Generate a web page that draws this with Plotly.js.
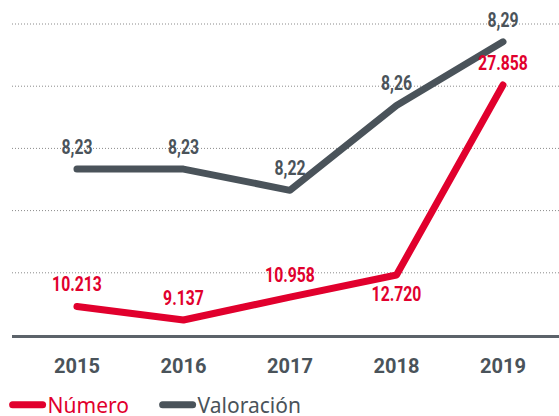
<!DOCTYPE html>
<html>
<head>
<meta charset="utf-8">
<script src="https://cdn.plot.ly/plotly-3.0.1.min.js"></script>
<style>
  html, body { margin: 0; padding: 0; background: #fff; }
  #chart { width: 559px; height: 416px; }
  /* narrow the bold value labels, the original uses a condensed face */
  #chart .textpoint text {
    transform-box: fill-box;
    transform-origin: center;
    transform: scaleX(0.75);
  }
  #chart .js-line { stroke-linecap: round; stroke-linejoin: round; }
</style>
</head>
<body>
<div id="chart"></div>
<script>
const years = ['2015', '2016', '2017', '2018', '2019'];
const numero = [10213, 9137, 10958, 12720, 27858];
const numeroLabels = ['10.213', '9.137', '10.958', '12.720', '27.858'];
const numeroLabelPos = ['top center', 'top center', 'top center', 'bottom center', 'top center'];
const valoracion = [8.23, 8.23, 8.22, 8.26, 8.29];
const valoracionLabels = ['8,23', '8,23', '8,22', '8,26', '8,29'];

const RED = '#e1002d';
const GREY = '#4a535a';
const labelFont = 'Roboto, sans-serif';

const gridShapes = [0.2, 0.4, 0.6, 0.8, 1.0].map(y => ({
    type: 'line', xref: 'paper', yref: 'paper',
    x0: 0, x1: 1, y0: y, y1: y,
    line: { color: '#8a8a8a', width: 1, dash: '1px,2px' },
    layer: 'below'
}));

const traces = [
    {
        name: '<span style="color:' + RED + '">Número</span>',
        x: years,
        y: numero,
        yaxis: 'y2',
        type: 'scatter',
        mode: 'lines+markers+text',
        line: { color: RED, width: 7 },
        marker: { size: 14, color: 'rgba(0,0,0,0)' },
        text: numeroLabels,
        textposition: numeroLabelPos,
        textfont: { family: labelFont, size: 21, color: RED, weight: 'bold' },
        cliponaxis: false,
        hoverinfo: 'skip'
    },
    {
        name: '<span style="color:' + GREY + '">Valoración</span>',
        x: years,
        y: valoracion,
        type: 'scatter',
        mode: 'lines+markers+text',
        line: { color: GREY, width: 7 },
        marker: { size: 14, color: 'rgba(0,0,0,0)' },
        text: valoracionLabels,
        textposition: 'top center',
        textfont: { family: labelFont, size: 21, color: GREY, weight: 'bold' },
        cliponaxis: false,
        hoverinfo: 'skip'
    }
];

const layout = {
    width: 559,
    height: 416,
    margin: { l: 12, r: 0, t: 24, b: 81, autoexpand: false },
    paper_bgcolor: '#fff',
    plot_bgcolor: '#fff',
    showlegend: true,
    xaxis: {
        type: 'category',
        range: [-0.61, 4.526],
        showgrid: false,
        zeroline: false,
        showline: true,
        linecolor: '#5c636a',
        linewidth: 2.5,
        ticks: '',
        ticklabelstandoff: 11,
        tickfont: { family: labelFont, size: 20, color: GREY, weight: 'bold' },
        automargin: false,
        fixedrange: true
    },
    yaxis: {
        range: [8.1518, 8.2984],
        visible: false,
        fixedrange: true
    },
    yaxis2: {
        range: [7943, 32718],
        overlaying: 'y',
        side: 'right',
        visible: false,
        fixedrange: true
    },
    shapes: gridShapes,
    legend: {
        orientation: 'h',
        x: -0.008,
        xanchor: 'left',
        y: -0.225,
        yanchor: 'middle',
        font: { family: 'Noto Sans, sans-serif', size: 21, color: GREY },
        itemwidth: 30,
        entrywidth: 105,
        traceorder: 'normal'
    }
};

Plotly.newPlot('chart', traces, layout, { displayModeBar: false, staticPlot: true });
</script>
</body>
</html>
